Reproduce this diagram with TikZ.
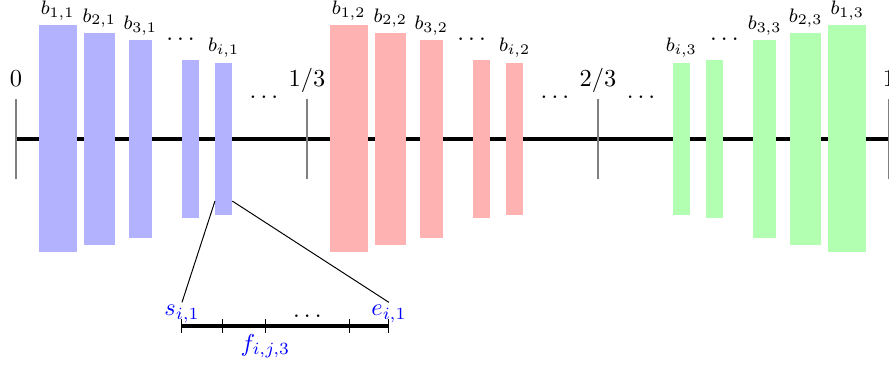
\documentclass[tikz,border=0pt]{standalone}
\usetikzlibrary{calc}

\begin{document}
\begin{tikzpicture}[
  bar/.style={fill=#1,inner sep=0pt,outer sep=0pt},
  thirdtick/.style={thick,gray},
  blab/.style={above,font=\footnotesize,inner sep=2pt},
  sublab/.style={text=blue,inner sep=1pt}]
\useasboundingbox (-0.23,-3.25) rectangle (12.57,2.0);
% axis and thirds
\draw[ultra thick] (0,0) -- (12.57,0);
\foreach \k in {0,1,2,3}
  \draw[thirdtick] ({4.19*\k},-0.58) -- ({4.19*\k},0.58);
\node[anchor=base] (l0) at (0,0.76) {$0$};
\node[anchor=base] (l1) at (4.19,0.76) {$1/3$};
\node[anchor=base] (l2) at (8.38,0.76) {$2/3$};
\node[anchor=base] (l3) at (12.57,0.76) {$1$};
% bars, third by third (the last one mirrored)
\foreach \col/\o/\s/\k in {blue/0/1/1, red/4.19/1/2, green/12.57/-1/3} {
  \foreach \c/\w/\h/\n in {0.6/0.55/3.27/1, 1.2/0.45/3.05/2, 1.79/0.33/2.84/3,
                            2.51/0.25/2.28/m, 2.99/0.25/2.19/i}
    \node[bar=\col!30,minimum width=\w cm,minimum height=\h cm] (b\n-\k) at ({\o+\s*\c},0) {};
  \foreach \n in {1,2,3,i}
    \node[blab] at (b\n-\k.north) {$b_{\n,\k}$};
  \node (td\k) at ({\o+\s*2.37},1.44) {$\dots$};
  \node (md\k) at ({\o+\s*3.57},0.60) {$\dots$};
}
% zoom on b_{i,1}
\coordinate (s) at (2.39,-2.69);
\coordinate (e) at (5.37,-2.69);
\draw[ultra thick] (s) -- (e);
\foreach \x [count=\j] in {2.39,2.98,3.59,4.80,5.37} {
  \coordinate (g\j) at (\x,-2.69);
  \draw ($(g\j)+(0,0.1)$) -- ($(g\j)-(0,0.1)$);
}
\node[sublab,above] (slab) at (s) {$s_{i,1}$};
\node[sublab,above] (elab) at (e) {$e_{i,1}$};
\node[below,text=blue] (flab) at (g3) {$f_{i,j,3}$};
\node[above] (bd) at ($(g3)!0.5!(g4)$) {$\dots$};
\draw ($(bi-1.south west)+(0,0.2)$) -- (slab.north);
\draw ($(bi-1.south east)+(0,0.2)$) -- (elab.north);
\end{tikzpicture}
\end{document}
